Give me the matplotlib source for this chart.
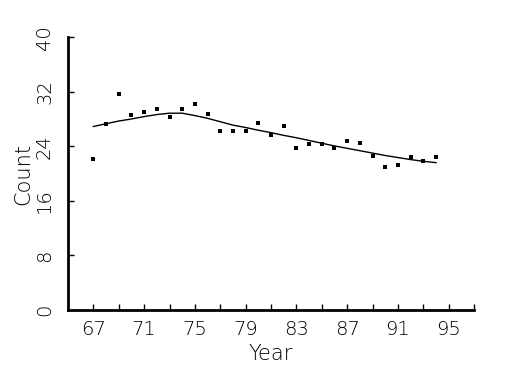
import matplotlib
matplotlib.use("Agg")
import matplotlib.pyplot as plt

# observed counts per year
years = list(range(67, 95))
counts = [22.2, 27.3, 31.7, 28.6, 29.0, 29.4, 28.3, 29.4, 30.2, 28.8,
          26.3, 26.3, 26.3, 27.4, 25.6, 26.9, 23.8, 24.3, 24.4, 23.7,
          24.8, 24.5, 22.6, 21.0, 21.2, 22.5, 21.8, 22.4]

# smoothed curve
smooth = [26.9, 27.3, 27.7, 28.0, 28.35, 28.65, 28.85, 28.85, 28.5, 28.1,
          27.6, 27.1, 26.75, 26.35, 26.0, 25.6, 25.25, 24.85, 24.45, 24.05,
          23.7, 23.35, 23.0, 22.65, 22.35, 22.05, 21.8, 21.6]

xticks = [67, 71, 75, 79, 83, 87, 91, 95]
yticks = [0, 8, 16, 24, 32, 40]

plt.rcParams['font.family'] = ['DejaVu Sans']
plt.rcParams['font.weight'] = 'light'
plt.rcParams['axes.labelweight'] = 'light'
plt.rcParams['xtick.direction'] = 'in'
plt.rcParams['ytick.direction'] = 'in'

fig = plt.figure(figsize=(5.25, 3.75), dpi=100)
ax = fig.add_axes([0.1295, 0.1733, 0.7735, 0.7277])

ax.plot(years, smooth, color='black', lw=1.0)
ax.plot(years, counts, 's', color='black', ms=2.2, mew=0)

ax.set_xlim(65, 97)
ax.set_ylim(0, 40)

ax.set_xticks(xticks)
ax.set_xticks([t + 2 for t in xticks], minor=True)
ax.set_yticks(yticks)
ax.set_yticklabels([str(t) for t in yticks], rotation=90, va='center')

ax.tick_params(axis='both', which='both', direction='in', length=4,
               width=1, labelsize=14, color='black')
ax.tick_params(axis='x', which='both', pad=7)
ax.tick_params(axis='y', pad=10)

for s in ['top', 'right']:
    ax.spines[s].set_visible(False)
for s in ['left', 'bottom']:
    ax.spines[s].set_linewidth(2)

ax.set_xlabel('Year', fontsize=15, fontweight='light', labelpad=4)
ax.set_ylabel('Count', fontsize=15, fontweight='light', labelpad=1)

fig.savefig('out.png', dpi=100)
